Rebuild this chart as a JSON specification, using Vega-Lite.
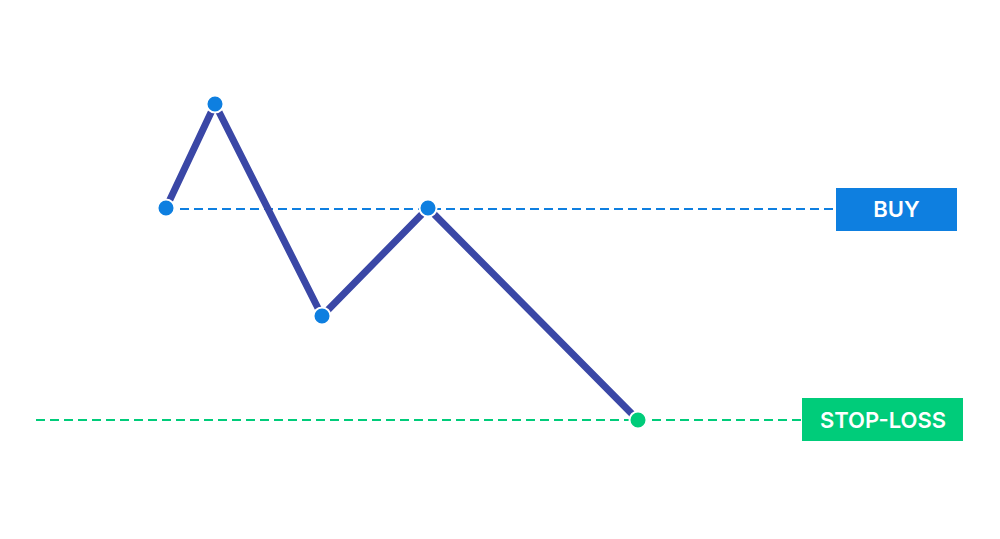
{
  "$schema": "https://vega.github.io/schema/vega-lite/v6.json",
  "autosize": {"type": "fit", "contains": "padding"},
  "width": 1000,
  "height": 539,
  "padding": 0,
  "background": "white",
  "config": {"view": {"stroke": null}},
  "datasets": {
    "path": [
      {"step": 1, "t": 166, "price": 331, "level": "BUY"},
      {"step": 2, "t": 215, "price": 435, "level": "BUY"},
      {"step": 3, "t": 322, "price": 223, "level": "BUY"},
      {"step": 4, "t": 428, "price": 331, "level": "BUY"},
      {"step": 5, "t": 638, "price": 119, "level": "STOP-LOSS"}
    ],
    "levels": [
      {"level": "BUY", "start": 166, "end": 836, "price": 330, "boxStart": 836, "boxEnd": 957, "boxTop": 351, "boxBottom": 308, "labelT": 896.5},
      {"level": "STOP-LOSS", "start": 36, "end": 802, "price": 119, "boxStart": 802, "boxEnd": 963, "boxTop": 141, "boxBottom": 98, "labelT": 883}
    ]
  },
  "layer": [
    {
      "data": {"name": "levels"},
      "mark": {"type": "rule", "strokeWidth": 2, "strokeDash": [9, 5]},
      "encoding": {
        "x": {"field": "start", "type": "quantitative", "scale": {"domain": [0, 1000], "nice": false, "zero": false}, "axis": null},
        "x2": {"field": "end"},
        "y": {"field": "price", "type": "quantitative", "scale": {"domain": [0, 539], "nice": false, "zero": false}, "axis": null},
        "color": {"field": "level", "type": "nominal", "scale": {"domain": ["BUY", "STOP-LOSS"], "range": ["#0e7fe0", "#00cc7a"]}, "legend": null}
      }
    },
    {
      "data": {"name": "path"},
      "mark": {"type": "line", "color": "#3a47a6", "strokeWidth": 7, "strokeCap": "butt", "strokeJoin": "miter"},
      "encoding": {
        "x": {"field": "t", "type": "quantitative"},
        "y": {"field": "price", "type": "quantitative"},
        "order": {"field": "step", "type": "quantitative"}
      }
    },
    {
      "data": {"name": "path"},
      "mark": {"type": "circle", "size": 290, "opacity": 1, "stroke": "white", "strokeWidth": 2},
      "encoding": {
        "x": {"field": "t", "type": "quantitative"},
        "y": {"field": "price", "type": "quantitative"},
        "fill": {"field": "level", "type": "nominal", "scale": {"domain": ["BUY", "STOP-LOSS"], "range": ["#0e7fe0", "#00cc7a"]}, "legend": null}
      }
    },
    {
      "data": {"name": "levels"},
      "mark": {"type": "rect"},
      "encoding": {
        "x": {"field": "boxStart", "type": "quantitative"},
        "x2": {"field": "boxEnd"},
        "y": {"field": "boxTop", "type": "quantitative"},
        "y2": {"field": "boxBottom"},
        "fill": {"field": "level", "type": "nominal", "scale": {"domain": ["BUY", "STOP-LOSS"], "range": ["#0e7fe0", "#00cc7a"]}, "legend": null}
      }
    },
    {
      "data": {"name": "levels"},
      "mark": {"type": "text", "color": "white", "font": "Inter", "fontWeight": 600, "fontSize": 22, "align": "center", "baseline": "middle", "dy": 1},
      "encoding": {
        "x": {"field": "labelT", "type": "quantitative"},
        "y": {"field": "price", "type": "quantitative"},
        "text": {"field": "level", "type": "nominal"}
      }
    }
  ]
}
